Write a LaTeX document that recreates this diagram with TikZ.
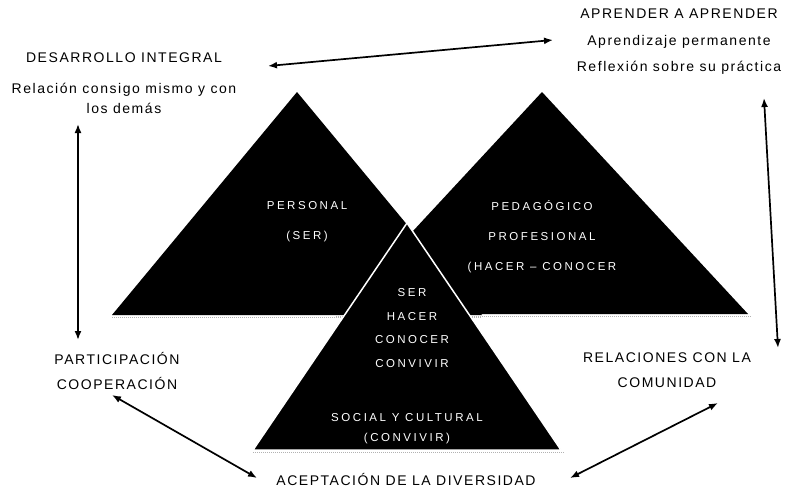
\documentclass[tikz,border=0pt]{standalone}
\usepackage{fontspec}
\setmainfont{Liberation Sans}
\newfontfamily\lblfont[LetterSpace=11]{Liberation Sans}
\newfontfamily\trifont[LetterSpace=22]{Liberation Sans}
\usetikzlibrary{arrows.meta}
\begin{document}
\begin{tikzpicture}  % ------ Los tres triangulos ------------------
      [x=1pt,y=-1pt,
       lbl/.style={inner sep=0pt,align=center,font=\fontsize{14}{25}\lblfont},
       tri/.style={inner sep=0pt,align=center,text=white,font=\fontsize{11.5}{30}\trifont},
       dblarrow/.style={{Latex[length=9pt,width=7pt]}-{Latex[length=9pt,width=7pt]},line width=1.7pt},
       shadow/.style={gray!60,densely dotted,line width=1pt}]
    \useasboundingbox (0,0) rectangle (788,490);
    % sombras
    \draw [shadow] (112,317)--(482,317);
    \draw [shadow] (336,316)--(752,316);
    \draw [shadow] (253,452)--(565,452);
    % triangulos
    \fill (297,92)--(482,315)--(112,315)--cycle;
    \fill (542,92)--(748,314)--(336,314)--cycle;
    \filldraw [draw=white,line width=1.5pt] (407,223)--(561,450)--(253,450)--cycle;
    \node [tri] (personal) at (307,222) {PERSONAL\\(SER)};
    \node [tri] (pedagogico) at (542,237) {PEDAGÓGICO\\PROFESIONAL\\(HACER – CONOCER};
    \node [tri,font=\fontsize{11.5}{23.7}\trifont] (ser) at (412,328) {SER\\HACER\\CONOCER\\CONVIVIR};
    \node [tri,font=\fontsize{11.5}{20}\trifont] (social) at (407,429) {SOCIAL Y CULTURAL\\(CONVIVIR)};
    % textos
    \node [lbl] (desarrollo) at (124,58) {DESARROLLO INTEGRAL};
    \node [lbl,font=\fontsize{14}{20}\lblfont] (relacion) at (124,98) {Relación consigo mismo y con\\los demás};
    \node [lbl,font=\fontsize{14}{26.5}\lblfont] (aprender) at (679,42) {APRENDER A APRENDER\\Aprendizaje permanente\\Reflexión sobre su práctica};
    \node [lbl] (participacion) at (117,371) {PARTICIPACIÓN\\COOPERACIÓN};
    \node [lbl] (relaciones) at (667,370) {RELACIONES CON LA\\COMUNIDAD};
    \node [lbl] (aceptacion) at (406,479) {ACEPTACIÓN DE LA DIVERSIDAD};
    % flechas
    \coordinate (a1) at (268,66);  \coordinate (a2) at (553,40);
    \coordinate (b1) at (78,124);  \coordinate (b2) at (78,340);
    \coordinate (c1) at (764,98);  \coordinate (c2) at (778,348);
    \coordinate (d1) at (112,395); \coordinate (d2) at (257,478);
    \coordinate (e1) at (718,403); \coordinate (e2) at (570,478);
    \draw [dblarrow] (a1)--(a2);
    \draw [dblarrow] (b1)--(b2);
    \draw [dblarrow] (c1)--(c2);
    \draw [dblarrow] (d1)--(d2);
    \draw [dblarrow] (e1)--(e2);
\end{tikzpicture}
\end{document}
